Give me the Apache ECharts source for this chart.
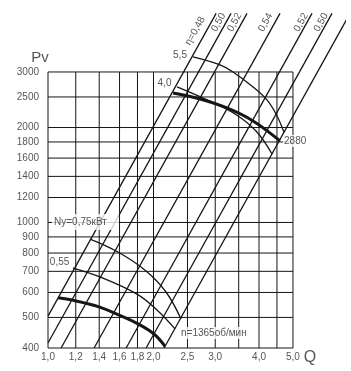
<!DOCTYPE html>
<html>
<head>
<meta charset="utf-8">
<style>
html, body { margin: 0; padding: 0; background: #fff; }
#chart { width: 351px; height: 371px; }
</style>
<script src="https://cdn.jsdelivr.net/npm/echarts@6/dist/echarts.min.js"></script>
</head>
<body>
<div id="chart"></div>
<script>
// сетка и подписи осей
const qTicks = [1.0, 1.2, 1.4, 1.6, 1.8, 2.0, 2.5, 3.0, 3.5, 4.0, 4.5, 5.0]
const qTickLabels = ['1,0', '1,2', '1,4', '1,6', '1,8', '2,0', '2,5', '3,0', '', '4,0', '', '5,0']
const pvTicks = [400, 500, 600, 700, 800, 900, 1000, 1200, 1400, 1600, 1800, 2000, 2500, 3000]

// характеристики Pv(Q), n = 1365 и 2880 об/мин (жирные)
const q1365 = [1.068, 1.202, 1.398, 1.584, 1.806, 2.006, 2.157]
const pv1365 = [577, 564, 540, 510, 477, 443, 405]
const q2880 = [2.274, 2.715, 3.241, 3.846, 4.59]
const pv2880 = [2574, 2464, 2307, 2098, 1813]

// тонкие кривые (Ny, кВт)
const qN055 = [1.178, 1.407, 1.794, 2.046, 2.303]
const pvN055 = [717, 672, 593, 528, 460]
const qN075 = [1.318, 1.584, 1.904, 2.171, 2.396]
const pvN075 = [886, 806, 702, 602, 494]
const qN40 = [2.334, 2.842, 3.416, 3.922, 4.356]
const pvN40 = [2689, 2446, 2208, 1950, 1649]
const qN55 = [2.593, 3.096, 3.372, 3.846, 4.215, 4.502, 4.713]
const pvN55 = [3348, 3158, 3000, 2689, 2446, 2176, 1930]

// линии КПД: начало и конец
const etaNames = ['η=0,48', '0,50', '0,52', '0,54', '0,52', '0,50']
const etaStart = [[1.0, 505], [1.0, 415], [1.09, 400], [1.354, 400], [1.671, 400], [1.905, 400], [2.144, 400]]
const etaEnd = [[3.018, 4600], [3.328, 4600], [3.697, 4600], [4.591, 4600], [5.665, 4600], [6.461, 4600], [7.272, 4600]]
const etaLabelPos = [[2.63, 4047], [3.065, 4307], [3.405, 4307], [4.175, 4307], [5.27, 4307], [6.01, 4307]]

const LINE = '#161616'
const TEXT = '#2a2a2a'
const FONT = 'Arial, "Liberation Sans", sans-serif'

const zip = (xs, ys) => xs.map((x, i) => [x, ys[i]])

function lineSeries(data, width, smooth) {
  return {
    type: 'line', data, symbol: 'none', silent: true, clip: false,
    smooth: smooth || false,
    lineStyle: { color: LINE, width, cap: 'butt' },
    z: width > 2 ? 4 : 3
  }
}

const series = []

// сетка
qTicks.forEach(q => series.push({ ...lineSeries([[q, 400], [q, 3000]], 1), z: 1 }))
pvTicks.forEach(pv => series.push({ ...lineSeries([[1, pv], [5, pv]], 1), z: 1 }))

// КПД
etaStart.forEach((s, i) => series.push(lineSeries([s, etaEnd[i]], 1.3)))

// кривые
series.push(lineSeries(zip(qN055, pvN055), 1.3, 0.4))
series.push(lineSeries(zip(qN075, pvN075), 1.3, 0.4))
series.push(lineSeries(zip(qN40, pvN40), 1.3, 0.4))
series.push(lineSeries(zip(qN55, pvN55), 1.3, 0.4))
series.push(lineSeries(zip(q1365, pv1365), 3, 0.4))
series.push(lineSeries(zip(q2880, pv2880), 3, 0.4))

// подписи
const baseLabel = { show: true, formatter: '{b}', color: TEXT, fontSize: 10, fontFamily: FONT }
const texts = []
pvTicks.forEach(pv => texts.push({ name: String(pv), value: [1, pv], label: { position: 'left', distance: 9 } }))
qTicks.forEach((q, i) => texts.push({ name: qTickLabels[i], value: [q, 400], label: { position: 'bottom', distance: 4 } }))
etaNames.forEach((n, i) => texts.push({ name: n, value: etaLabelPos[i], label: { position: 'inside', rotate: 61 } }))
const whiteBox = { backgroundColor: '#fff' }
texts.push(
  { name: 'Pv', value: [0.949, 3324], label: { position: 'inside', fontSize: 15 } },
  { name: 'Q', value: [5.59, 373], label: { position: 'inside', fontSize: 16 } },
  { name: '5,5', value: [2.38, 3384], label: { position: 'inside' } },
  { name: '4,0', value: [2.15, 2768], label: { position: 'inside' } },
  { name: '0,55', value: [1.079, 750], label: { position: 'inside' } },
  { name: '2880', value: [4.683, 1813], label: { position: 'right', distance: 0, padding: [1, 1], ...whiteBox } },
  { name: 'n=1365об/мин', value: [2.38, 446], label: { position: 'right', distance: 0, padding: [1, 1], ...whiteBox } },
  { name: 'Ny=0,75кВт', value: [1.027, 1004], label: { position: 'right', distance: 0, padding: [3, 12, 3, 2], ...whiteBox } }
)
series.push({
  type: 'scatter', data: texts, symbolSize: 0, silent: true, clip: false, z: 10,
  label: baseLabel
})

const chart = echarts.init(document.getElementById('chart'))
chart.setOption({
  animation: false,
  grid: { left: 48, top: 2, bottom: 23, right: 6.8 },
  xAxis: {
    type: 'log', logBase: 10, min: 1, max: 7,
    axisLine: { show: false }, axisTick: { show: false },
    axisLabel: { show: false }, splitLine: { show: false }
  },
  yAxis: {
    type: 'log', logBase: 10, min: 400, max: 5000,
    axisLine: { show: false }, axisTick: { show: false },
    axisLabel: { show: false }, splitLine: { show: false }
  },
  series
})
</script>
</body>
</html>
